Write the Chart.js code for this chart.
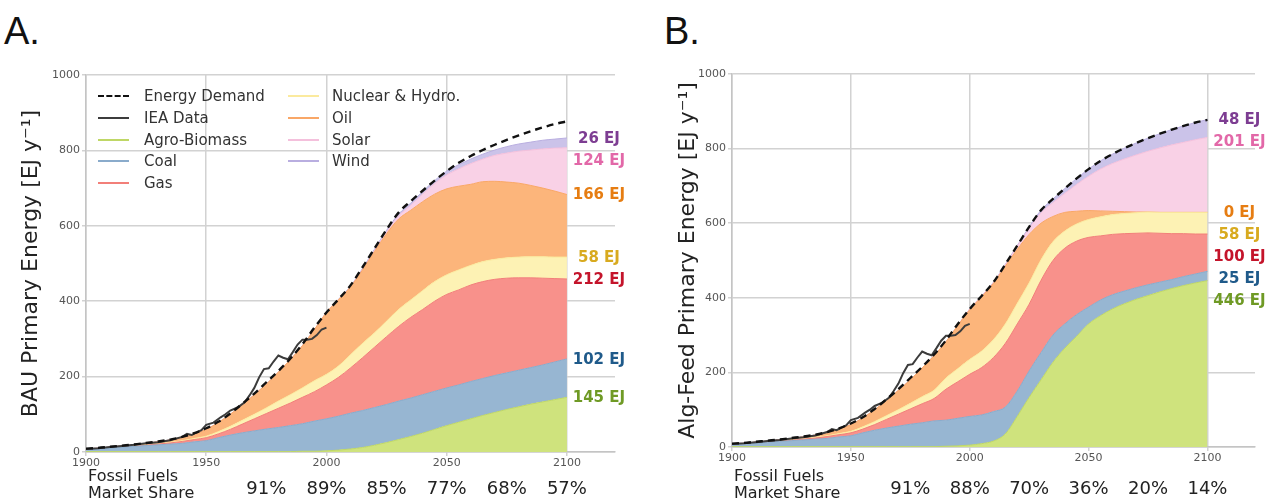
<!DOCTYPE html>
<html>
<head>
<meta charset="utf-8">
<script src="https://cdn.jsdelivr.net/npm/chart.js@4/dist/chart.umd.min.js"></script>
<style>
  body { margin: 0; width: 1278px; height: 500px; overflow: hidden; background: #fff; position: relative; font-family: "DejaVu Sans", sans-serif; }
  canvas { position: absolute; top: 0; }
  #chartA { left: 0; }
  #chartB { left: 640px; }
  .panel { position: absolute; top: 12px; font: 38px/38px "Liberation Sans", sans-serif; color: #111; }
  .leg { position: absolute; font: 15px/20px "DejaVu Sans", sans-serif; color: #333; white-space: nowrap; }
  .leg i { position: absolute; top: 9px; width: 31px; height: 0; border-top: 2px solid; }
  .leg span { position: absolute; top: 0; }
</style>
</head>
<body>
<div class="panel" style="left:4px">A.</div>
<div class="panel" style="left:664px">B.</div>
<canvas id="chartA" width="640" height="500"></canvas>
<canvas id="chartB" width="638" height="500"></canvas>
<div id="legend"></div>
<script>
// 5-year steps, 1900 - 2100
const years = [1900,1905,1910,1915,1920,1925,1930,1935,1940,1945,1950,1955,1960,1965,1970,1975,1980,1985,1990,1995,
  2000,2005,2010,2015,2020,2025,2030,2035,2040,2045,2050,2055,2060,2065,2070,2075,2080,2085,2090,2095,2100];

const demand = [9,11,14,17,20,24,28,33,40,50,63,80,102,128,155,185,215,248,286,330,
  370,405,442,490,540,590,635,665,693,720,745,767,785,801,815,828,840,851,861,870,877];

const ieaYears  = [1900,1905,1910,1915,1920,1925,1930,1935,1940,1942,1944,1946,1948,1950,1953,1956,1958,1960,1963,1966,1968,
  1970,1972,1974,1976,1978,1980,1982,1984,1986,1988,1990,1992,1994,1996,1998,2000];
const ieaValues = [8,10,13,16,19,23,26,31,40,48,45,52,58,72,78,92,100,110,118,132,150,
  170,198,220,222,240,256,250,246,265,285,298,298,300,310,325,330];

// layer thickness [EJ/y], BAU scenario
const bioA   = [1,1,1,1,1,1,1,1,1,1,1,1,1,1,1,1,1,1,2,2,3,5,8,12,18,25,33,41,50,60,70,79,88,97,105,113,120,127,133,139,145];
const coalA  = [6,8,10,12,14,16,18,20,22,26,29,37,44,50,55,60,64,69,73,80,85,90,95,98,100,101,102,102,102,101,100,99,99,98,98,97,97,97,98,100,102];
const gasA   = [0,0,0,0,0,1,2,3,5,6,8,10,15,23,32,41,51,60,70,78,90,103,120,140,160,180,198,214,226,239,248,252,256,257,255,251,245,238,230,221,212];
const nucA   = [0,0,0,0,1,1,1,2,2,3,4,6,8,10,12,15,19,22,25,29,28,30,35,38,38,41,45,46,50,52,52,53,52,53,53,54,55,56,57,57,58];
const oilA   = [1,1,2,3,3,4,5,6,9,12,18,24,32,41,52,63,77,93,112,136,164,176,180,195,216,232,240,238,236,232,228,222,215,212,207,201,196,189,182,175,166];
const solarA = [0,0,0,0,0,0,0,0,0,0,0,0,0,0,0,0,0,0,0,0,0,0,1,2,3,5,8,13,20,28,37,46,55,60,69,77,85,94,104,114,124];
const windA  = [0,0,0,0,0,0,0,0,0,0,0,0,0,0,0,0,0,0,0,0,0,1,1,2,3,4,5,6,7,8,10,11,12,13,14,17,19,21,23,24,26];

// layer thickness [EJ/y], Alg-Feed scenario
const bioB   = [1,1,1,1,1,1,1,1,1,1,1,1,1,1,1,1,1,1,2,3,5,9,16,35,82,133,180,227,265,297,330,352,370,384,396,406,416,425,433,440,446];
const coalB  = [6,8,10,12,14,16,18,20,22,26,29,37,44,50,55,60,64,69,70,74,77,77,79,72,68,71,73,73,65,58,45,42,38,34,31,29,26,24,24,24,25];
const gasB   = [0,0,0,0,0,1,2,3,5,6,8,10,15,23,32,41,51,60,83,98,113,127,145,171,180,179,194,200,203,197,187,172,162,154,146,139,131,123,115,107,100];
const nucB   = [0,0,0,0,1,1,1,2,2,3,4,6,8,10,12,15,19,22,30,35,40,44,48,52,55,57,55,50,46,46,48,51,53,54,55,56,56,57,57,58,58];
const oilB   = [1,1,2,3,3,4,5,6,9,12,18,24,32,41,52,63,77,93,97,116,133,146,151,155,145,130,98,68,50,34,24,16,9,5,2,0,0,0,0,0,0];
const solarB = [0,0,0,0,0,0,0,0,0,0,0,0,0,0,0,0,0,0,0,0,2,2,2,4,8,16,28,37,51,72,92,112,128,141,153,163,173,181,188,195,201];
const windB  = [0,0,0,0,0,0,0,0,0,0,0,0,0,0,0,0,0,0,0,0,0,0,1,1,2,4,7,10,13,16,19,22,25,29,32,35,38,41,44,46,48];

const layerNames = ['Agro-Biomass', 'Coal', 'Gas', 'Nuclear & Hydro.', 'Oil', 'Solar', 'Wind'];
const layerFill  = ['#cfe37d', '#97b6d2', '#f8918b', '#fdf2b4', '#fcb57b', '#f9d1e6', '#cbc3e9'];
const layerLine  = ['#bfd766', '#8aabcb', '#f27f79', '#fbea9e', '#f9a767', '#f4c0dc', '#b9aee0'];
const labelColor = ['#6f9a25', '#1f5a8a', '#c4142b', '#d8aa1f', '#e67d12', '#e268a8', '#7d3d92'];

const shareYears = [1975, 2000, 2025, 2050, 2075, 2100];
const sharesA = [91, 89, 85, 77, 68, 57];
const sharesB = [91, 88, 70, 36, 20, 14];

const pts = (xs, ys) => xs.map((x, i) => ({x: x, y: ys[i]}));

const sideText = {
    id: 'sideText',
    afterDraw(chart, args, o) {
        const ctx = chart.ctx, x = chart.scales.x, a = chart.chartArea;
        ctx.save();
        // values in 2100, stacked top-down without overlap
        ctx.font = 'bold 15px "DejaVu Sans"';
        ctx.textAlign = 'center';
        ctx.textBaseline = 'middle';
        const xl = x.getPixelForValue(2100) + 32;
        let prev = -1e9;
        for (let i = o.layers.length - 1; i >= 0; i--) {
            const d = chart.getDatasetMeta(i).data;
            const y = Math.max(d[d.length - 1].y + 1, prev + 22);
            prev = y;
            ctx.fillStyle = labelColor[i];
            ctx.fillText(o.layers[i][o.layers[i].length - 1] + ' EJ', xl, y);
        }
        // market share row
        ctx.fillStyle = '#222';
        ctx.textAlign = 'left';
        ctx.font = '16px "DejaVu Sans"';
        ctx.fillText('Fossil Fuels', a.left + 2, 477);
        ctx.fillText('Market Share', a.left + 2, 494);
        ctx.textAlign = 'center';
        ctx.font = '18px "DejaVu Sans"';
        shareYears.forEach((yr, i) => ctx.fillText(o.shares[i] + '%', x.getPixelForValue(yr), 489));
        ctx.restore();
    }
};

function makeChart(id, layers, shares, title, axisW, top, bottomPad, rightPad, titlePad) {
    const sets = layers.map((arr, i) => ({
        data: pts(years, arr),
        backgroundColor: layerFill[i],
        borderColor: layerLine[i],
        borderWidth: 1,
        fill: i === 0 ? 'origin' : '-1',
        order: 1
    }));
    sets.push({
        data: pts(years, demand), stack: 'demand', order: 0, fill: false,
        borderColor: '#111', borderWidth: 2.4, borderDash: [7, 5]
    });
    sets.push({
        data: pts(ieaYears, ieaValues), stack: 'iea', order: 0, fill: false,
        borderColor: '#3c3c3c', borderWidth: 2, cubicInterpolationMode: 'default', tension: 0
    });
    const tickFont = {family: 'DejaVu Sans', size: 11};
    return new Chart(document.getElementById(id), {
        type: 'line',
        data: {datasets: sets},
        options: {
            responsive: false, animation: false,
            layout: {padding: {left: 0, top: top, right: rightPad, bottom: bottomPad}},
            elements: {point: {radius: 0}, line: {cubicInterpolationMode: 'monotone'}},
            plugins: {legend: {display: false}, tooltip: {enabled: false},
                      sideText: {layers: layers, shares: shares}},
            scales: {
                x: {
                    type: 'linear', min: 1900, max: 2120,
                    ticks: {stepSize: 50, includeBounds: false, color: '#555', font: tickFont, padding: 1,
                            maxRotation: 0, callback: v => String(v)},
                    grid: {color: '#d2d2d2', lineWidth: 1.5, tickLength: 4},
                    border: {color: '#c4c4c4', width: 1.5},
                    afterFit: s => { s.height = 20; }
                },
                y: {
                    stacked: true, min: 0, max: 1000,
                    ticks: {stepSize: 200, color: '#555', font: tickFont, padding: 2, callback: v => String(v)},
                    grid: {color: '#d2d2d2', lineWidth: 1.5, tickLength: 4},
                    border: {color: '#c4c4c4', width: 1.5},
                    title: {display: true, text: title, color: '#222',
                            font: {family: 'DejaVu Sans', size: 22}, padding: {top: titlePad, bottom: 0}},
                    afterFit: s => { s.width = axisW; }
                }
            }
        },
        plugins: [sideText]
    });
}

makeChart('chartA', [bioA, coalA, gasA, nucA, oilA, solarA, windA], sharesA,
          'BAU Primary Energy [EJ y\u207B\u00B9]', 86, 75, 28, 25, 18);
makeChart('chartB', [bioB, coalB, gasB, nucB, oilB, solarB, windB], sharesB,
          'Alg-Feed Primary Energy [EJ y\u207B\u00B9]', 92, 74, 33, 23, 35);

// two-column legend over panel A
const legItems = [
    ['Energy Demand', '#111', 'dashed'], ['IEA Data', '#3c3c3c', 'solid']
].concat(layerNames.map((n, i) => [n, layerLine[i], 'solid']));
const legend = document.getElementById('legend');
legItems.forEach((it, k) => {
    const col = k < 5 ? 0 : 1, row = k < 5 ? k : k - 5;
    const d = document.createElement('div');
    d.className = 'leg';
    d.style.left = (col ? 288 : 98) + 'px';
    d.style.top = (86 + row * 21.8) + 'px';
    const line = document.createElement('i');
    line.style.borderTopColor = it[1];
    line.style.borderTopStyle = it[2];
    if (it[2] === 'dashed') { line.style.borderTopWidth = '2.5px'; }
    const txt = document.createElement('span');
    txt.style.left = (col ? 44 : 46) + 'px';
    txt.textContent = it[0];
    d.appendChild(line);
    d.appendChild(txt);
    legend.appendChild(d);
});
</script>
</body>
</html>
